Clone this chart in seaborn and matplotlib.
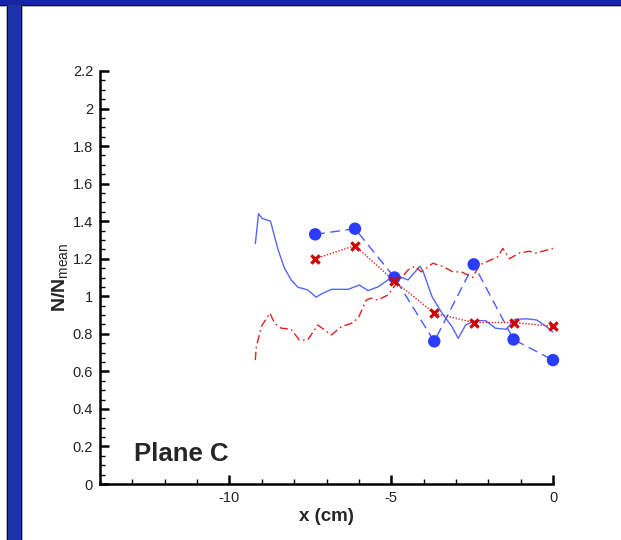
import numpy as np
import pandas as pd
import matplotlib
matplotlib.use("Agg")
import matplotlib.pyplot as plt
import seaborn as sns
from matplotlib.patches import Rectangle
from matplotlib.ticker import MultipleLocator

# ---- data ----
pt_x = [-7.35, -6.12, -4.9, -3.67, -2.45, -1.22, 0.0]
blue_pts = [1.33, 1.36, 1.10, 0.76, 1.17, 0.77, 0.66]
red_pts = [1.20, 1.27, 1.08, 0.91, 0.86, 0.86, 0.84]

blue_line_x = [-9.20, -9.10, -8.99, -8.73, -8.50, -8.30, -8.09, -7.88, -7.58, -7.32, -7.16,
               -6.85, -6.33, -5.98, -5.72, -5.41, -5.10, -4.79, -4.48, -4.11, -4.01,
               -3.74, -3.43, -3.12, -2.93, -2.70, -2.39, -2.08, -1.78, -1.45, -1.18,
               -0.82, -0.51, -0.20, 0.0]
blue_line_y = [1.28, 1.44, 1.415, 1.40, 1.25, 1.15, 1.087, 1.048, 1.034, 0.995, 1.012,
               1.037, 1.037, 1.06, 1.03, 1.05, 1.087, 1.108, 1.087, 1.16, 1.13,
               0.998, 0.91, 0.838, 0.776, 0.847, 0.87, 0.87, 0.83, 0.824, 0.877,
               0.88, 0.874, 0.838, 0.81]

red_line_x = [-9.20, -9.17, -9.01, -8.75, -8.60, -8.40, -8.09, -7.84, -7.58, -7.27, -6.85,
              -6.54, -6.23, -6.02, -5.77, -5.62, -5.41, -5.10, -4.83, -4.48, -4.27,
              -4.07, -3.71, -3.40, -3.09, -2.83, -2.48, -2.27, -1.97, -1.71, -1.55,
              -1.35, -1.04, -0.73, -0.53, 0.0]
red_line_y = [0.66, 0.73, 0.84, 0.91, 0.856, 0.83, 0.824, 0.767, 0.767, 0.847, 0.794,
              0.838, 0.856, 0.883, 0.98, 0.99, 0.98, 1.007, 1.07, 1.14, 1.16,
              1.13, 1.176, 1.158, 1.13, 1.13, 1.10, 1.167, 1.19, 1.21, 1.255,
              1.20, 1.23, 1.24, 1.23, 1.255]

x_ticks = [-10, -5, 0]
y_ticks = [0, 0.2, 0.4, 0.6, 0.8, 1, 1.2, 1.4, 1.6, 1.8, 2, 2.2]

# ---- style ----
sns.set_theme(style="white")
plt.rcParams["font.family"] = ["Liberation Sans", "DejaVu Sans"]
plt.rcParams["mathtext.fontset"] = "custom"
plt.rcParams["mathtext.rm"] = "Liberation Sans"
plt.rcParams["mathtext.bf"] = "Liberation Sans:bold"

W, H = 621, 540
fig = plt.figure(figsize=(W / 100, H / 100), dpi=100)
fig.patch.set_facecolor("white")

# frame decoration (blue bars)
def px_rect(x0, y0, w, h, color, z=0):
    fig.patches.append(Rectangle((x0 / W, 1 - (y0 + h) / H), w / W, h / H,
                                 transform=fig.transFigure, facecolor=color,
                                 edgecolor="none", zorder=z))

px_rect(6, 5, 17, H, "#b0b0b0", 1)
px_rect(7, 5, 15, H, "#111111", 1)
px_rect(8, 5, 13, H, "#1c34a8", 1)
px_rect(0, 5, 8, 1.2, "#111111", 2)
px_rect(21, 5, W, 1.2, "#111111", 2)
px_rect(22, 6.2, W, 1.0, "#b0b0b0", 2)
px_rect(0, 6.2, 6, 1.0, "#b0b0b0", 2)
px_rect(0, 0, W, 5, "#1426a0", 3)

ax = fig.add_axes([100 / W, 1 - 484 / H, (553 - 100) / W, (484 - 71) / H])
ax.set_facecolor("white")

df_bl = pd.DataFrame({"x": blue_line_x, "y": blue_line_y})
df_rl = pd.DataFrame({"x": red_line_x, "y": red_line_y})
df_bp = pd.DataFrame({"x": pt_x, "y": blue_pts})
df_rp = pd.DataFrame({"x": pt_x, "y": red_pts})

sns.lineplot(data=df_bl, x="x", y="y", ax=ax, sort=False, estimator=None,
             color="#5566ff", lw=1.0)
sns.lineplot(data=df_rl, x="x", y="y", ax=ax, sort=False, estimator=None,
             color="#e02020", lw=1.0, dashes=False)
ax.lines[-1].set_dashes([6, 2.5, 1.2, 2.5])
sns.lineplot(data=df_bp, x="x", y="y", ax=ax, sort=False, estimator=None,
             color="#4a5aff", lw=1.0)
ax.lines[-1].set_dashes([7, 4])
sns.lineplot(data=df_rp, x="x", y="y", ax=ax, sort=False, estimator=None,
             color="#e02020", lw=1.0)
ax.lines[-1].set_dashes([1, 1.2])
sns.scatterplot(data=df_bp, x="x", y="y", ax=ax, color="#2a3cff", s=80,
                marker="o", edgecolor="none", zorder=5)
sns.scatterplot(data=df_rp, x="x", y="y", ax=ax, color="#d00000", s=36,
                marker="x", linewidth=2.3, zorder=6)

ax.set_xlim(-14, 0)
ax.set_ylim(0, 2.2)
ax.set_xticks(x_ticks)
ax.set_xticklabels([str(v) for v in x_ticks])
ax.set_yticks(y_ticks)
ax.set_yticklabels([("%g" % v) for v in y_ticks])
ax.xaxis.set_minor_locator(MultipleLocator(1))
ax.yaxis.set_minor_locator(MultipleLocator(0.05))

for s in ["top", "right"]:
    ax.spines[s].set_visible(False)
for s in ["left", "bottom"]:
    ax.spines[s].set_linewidth(1.8)
    ax.spines[s].set_color("black")

ax.tick_params(which="major", direction="in", length=6.5, width=1.8,
               colors="black", labelsize=10.5, labelcolor="#222222",
               bottom=True, left=True, top=False, right=False, pad=5)
ax.tick_params(which="minor", direction="in", length=3.5, width=1.0,
               colors="black", bottom=True, left=True, top=False, right=False)

ax.set_xlabel("x (cm)", fontsize=13.5, fontweight="bold", labelpad=2)
ax.set_ylabel(r"N/N$_{\rm mean}$", fontsize=14, fontweight="bold", labelpad=1)

ax.text(-12.96, 0.16, "Plane C", fontsize=18.5, fontweight="bold",
        ha="left", va="center")

for a in ax.lines + ax.collections:
    a.set_clip_on(False)

fig.savefig("out.png", dpi=100)
